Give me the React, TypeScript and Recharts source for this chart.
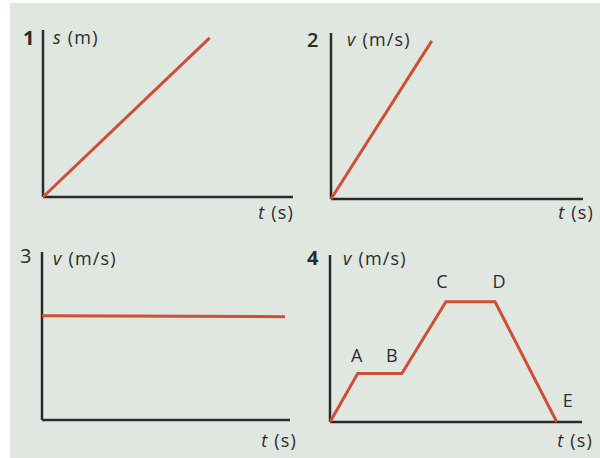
import { LineChart, Line, XAxis, YAxis, LabelList, ReferenceLine } from "recharts";

// panel 1: s–t, uniform motion
const p1Time = [0, 10];
const p1Dist = [0, 10];
// panel 2: v–t, uniform acceleration
const p2Time = [0, 4];
const p2Vel = [0, 10];
// panel 3: v–t, constant velocity
const p3Time = [0, 9.8];
const p3Vel = [6.2, 6.15];
// panel 4: v–t, multi-stage motion
const p4Time = [0, 2.2, 5.7, 9.2, 13.1, 18];
const p4Vel = [0, 2.9, 2.9, 7.2, 7.2, 0];
const p4Labels = ["", "A", "B", "C", "D", "E"];

const toRows = (t: number[], v: number[], names?: string[]) =>
  t.map((x, i) => ({ t: x, v: v[i], name: names ? names[i] : "" }));

const LINE = "#cf4f33";
const AXIS = "#2a2a2a";
const BG = "#e0e7e1";
const FONT = "'Open Sans', 'DejaVu Sans', sans-serif";
const TEXT = "#2b2b2b";

interface PanelProps {
  left: number;
  top: number;
  margin: { top: number; right: number; bottom: number; left: number };
  data: { t: number; v: number; name: string }[];
  xMax: number;
  yMax: number;
  labels?: boolean;
}

// label offsets for A–E, relative to the point
const labelShift: Record<string, [number, number]> = {
  A: [-1, -12],
  B: [-10, -12],
  C: [-4, -14],
  D: [4, -14],
  E: [11, -15],
};

const PointLabel = (props: any) => {
  const { x, y, value } = props;
  if (!value) return null;
  const [dx, dy] = labelShift[value] || [0, -12];
  return (
    <text
      x={x + dx}
      y={y + dy}
      textAnchor="middle"
      fontFamily={FONT}
      fontSize={18}
      fill={TEXT}
    >
      {value}
    </text>
  );
};

function Panel({ left, top, margin, data, xMax, yMax, labels }: PanelProps) {
  return (
    <div style={{ position: "absolute", left, top }}>
      <LineChart width={300} height={228} data={data} margin={margin}>
        <XAxis type="number" dataKey="t" domain={[0, xMax]} hide />
        <YAxis type="number" domain={[0, yMax]} hide />
        <ReferenceLine
          segment={[{ x: 0, y: 0 }, { x: xMax, y: 0 }]}
          stroke={AXIS}
          strokeWidth={2.5}
          ifOverflow="visible"
        />
        <ReferenceLine
          segment={[{ x: 0, y: 0 }, { x: 0, y: yMax }]}
          stroke={AXIS}
          strokeWidth={2.5}
          ifOverflow="visible"
        />
        <Line
          type="linear"
          dataKey="v"
          stroke={LINE}
          strokeWidth={3}
          dot={false}
          isAnimationActive={false}
        >
          {labels && <LabelList dataKey="name" content={PointLabel} />}
        </Line>
      </LineChart>
    </div>
  );
}

const txt = { fontFamily: FONT, fontSize: 18, fill: TEXT, letterSpacing: 1.2 };

function AxisTitle({ x, y, sym, unit, anchor = "start" }: any) {
  return (
    <text x={x} y={y} textAnchor={anchor} {...txt}>
      <tspan fontStyle="italic">{sym}</tspan> ({unit})
    </text>
  );
}

export default function App() {
  return (
    <div
      style={{
        position: "absolute",
        left: 0,
        top: 0,
        width: 600,
        height: 458,
        background: "#fff",
        overflow: "hidden",
      }}
    >
      <div
        style={{
          position: "absolute",
          left: 10,
          top: 3,
          width: 590,
          height: 455,
          background: BG,
        }}
      />
      <Panel
        left={0}
        top={0}
        margin={{ top: 30, right: 7, bottom: 31, left: 43 }}
        data={toRows(p1Time, p1Dist)}
        xMax={15}
        yMax={10.5}
      />
      <Panel
        left={300}
        top={0}
        margin={{ top: 33, right: 17, bottom: 29, left: 31 }}
        data={toRows(p2Time, p2Vel)}
        xMax={10}
        yMax={10.5}
      />
      <Panel
        left={0}
        top={230}
        margin={{ top: 22, right: 10, bottom: 38, left: 42 }}
        data={toRows(p3Time, p3Vel)}
        xMax={10}
        yMax={10}
      />
      <Panel
        left={300}
        top={230}
        margin={{ top: 25, right: 18, bottom: 36, left: 30 }}
        data={toRows(p4Time, p4Vel, p4Labels)}
        xMax={20}
        yMax={10}
        labels
      />
      <svg
        width={600}
        height={458}
        style={{ position: "absolute", left: 0, top: 0, pointerEvents: "none" }}
      >
        <text x={23} y={45} {...txt} fontWeight={700} fontSize={20}>1</text>
        <AxisTitle x={53} y={44} sym="s" unit="m" />
        <AxisTitle x={294} y={219} sym="t" unit="s" anchor="end" />

        <text x={307} y={47} {...txt} fontWeight={600} fontSize={20}>2</text>
        <AxisTitle x={347} y={46} sym="v" unit="m/s" />
        <AxisTitle x={594} y={219} sym="t" unit="s" anchor="end" />

        <text x={20} y={263} {...txt} fontSize={20}>3</text>
        <AxisTitle x={53} y={265} sym="v" unit="m/s" />
        <AxisTitle x={297} y={447} sym="t" unit="s" anchor="end" />

        <text x={307} y={265} {...txt} fontWeight={700} fontSize={20}>4</text>
        <AxisTitle x={343} y={265} sym="v" unit="m/s" />
        <AxisTitle x={593} y={447} sym="t" unit="s" anchor="end" />
      </svg>
    </div>
  );
}
